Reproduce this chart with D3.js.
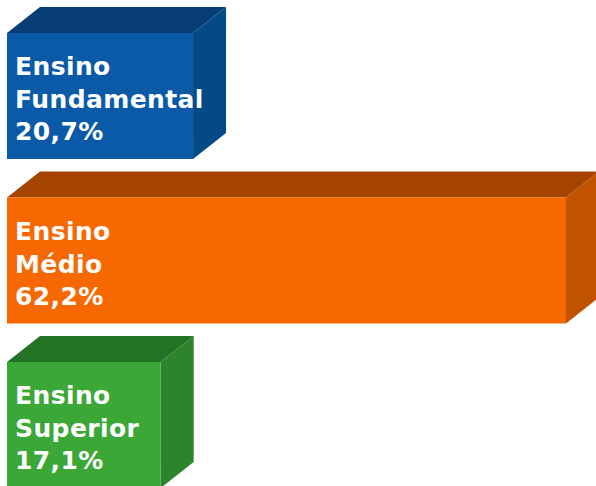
<!DOCTYPE html>
<html><head><meta charset="utf-8">
<script src="https://cdn.jsdelivr.net/npm/d3@7"></script>
<style>html,body{margin:0;padding:0;background:#fff;}svg{display:block;}</style>
</head><body>
<svg id="chart" width="596" height="486"></svg>
<script>
const categories = ["Ensino Fundamental", "Ensino Médio", "Ensino Superior"];
const labelFirst = ["Ensino", "Ensino", "Ensino"];
const labelSecond = ["Fundamental", "Médio", "Superior"];
const values = [20.7, 62.2, 17.1];
const frontColors = ["#0a5aa8", "#f76800", "#3ba737"];
const topColors = ["#053d74", "#a54400", "#247224"];
const sideColors = ["#034a86", "#c05200", "#2e842b"];

const W = 596, H = 486;
const svg = d3.select("#chart");
const depthX = 33, depthY = 26;

const x = d3.scaleLinear().domain([0, 62.2]).range([7, 566]);
const step = 164.5, bw = 126;
const pIn = 1 - bw / step;
const y = d3.scaleBand().domain(categories)
  .range([33, 33 + step * (3 - pIn)]).paddingInner(pIn).paddingOuter(0);

const fmt = v => d3.format(".1f")(v).replace(".", ",") + "%";

const data = categories.map((c, i) => ({c, i, v: values[i]}));
const g = svg.selectAll("g.bar").data(data).join("g").attr("class", "bar");

g.append("path").attr("fill", d => topColors[d.i]).attr("d", d => {
  const x0 = x(0), x1 = x(d.v), y0 = y(d.c);
  return `M${x0},${y0}L${x0 + depthX},${y0 - depthY}L${x1 + depthX},${y0 - depthY}L${x1},${y0}Z`;
});
g.append("path").attr("fill", d => sideColors[d.i]).attr("d", d => {
  const x1 = x(d.v), y0 = y(d.c), y1 = y0 + y.bandwidth();
  return `M${x1},${y0}L${x1 + depthX},${y0 - depthY}L${x1 + depthX},${y1 - depthY}L${x1},${y1}Z`;
});
g.append("rect").attr("fill", d => frontColors[d.i])
  .attr("x", x(0)).attr("y", d => y(d.c))
  .attr("width", d => x(d.v) - x(0)).attr("height", y.bandwidth());

const t = g.append("text").attr("fill", "#fff")
  .attr("font-family", "'DejaVu Sans', sans-serif")
  .attr("font-weight", 700).attr("font-size", 25)
  .attr("letter-spacing", 0.4)
  .attr("x", x(0) + 8);
t.append("tspan").attr("x", x(0) + 8).attr("y", d => y(d.c) + 42).text(d => labelFirst[d.i]);
t.append("tspan").attr("x", x(0) + 8).attr("y", d => y(d.c) + 75).text(d => labelSecond[d.i]);
t.append("tspan").attr("x", x(0) + 8).attr("y", d => y(d.c) + 107).text(d => fmt(d.v));
</script>
</body></html>
